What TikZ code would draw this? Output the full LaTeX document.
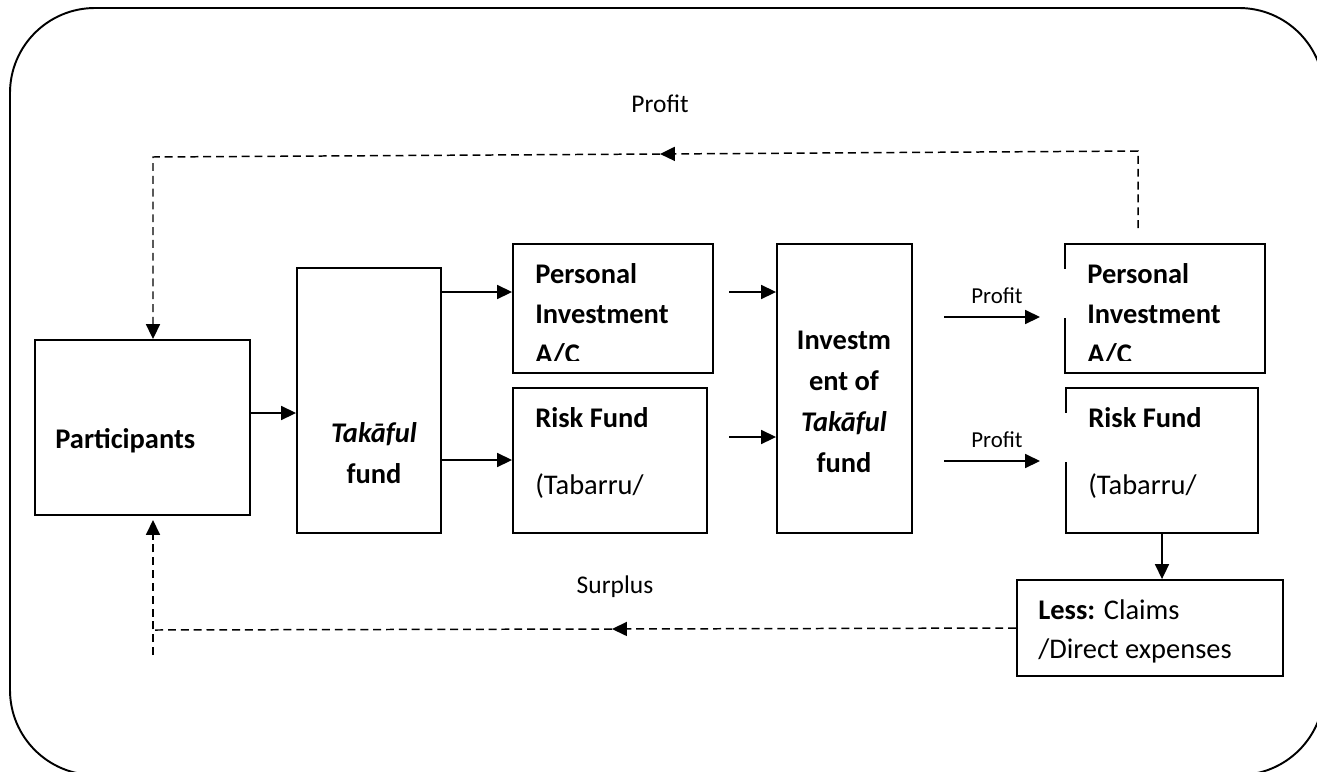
\documentclass[tikz,border=0pt]{standalone}
\usepackage{fontspec}
\setmainfont{Carlito}
\usetikzlibrary{arrows.meta,fit,positioning}
\newcommand{\bigf}{\fontsize{16.2}{22.7}\selectfont}
\newcommand{\smallf}{\fontsize{13}{16}\selectfont}
\newcommand{\midf}{\fontsize{14.5}{18}\selectfont}

\begin{document}
\begin{tikzpicture}[x=0.02cm,y=-0.02cm,
    box/.style={draw, line width=1.1pt, inner sep=0pt},
    txt/.style={inner sep=0pt, font=\bigf, anchor=base west},
    ctxt/.style={inner sep=0pt, font=\bigf, anchor=base},
    plbl/.style={fill=white, inner xsep=0.9cm, inner ysep=0pt, text height=0.68cm, text depth=0.3cm, font=\smallf, anchor=base},
    flow/.style={line width=0.8pt, -{Triangle[length=8.5pt,width=8pt]}},
    back/.style={line width=0.85pt, dash pattern=on 4.5pt off 2.8pt},
    backtip/.style={back, -{Triangle[length=8.5pt,width=8pt]}}]
  \useasboundingbox (0,0) rectangle (1317,771);
  \fill[white] (0,0) rectangle (1317,771);
  \clip (0,0) rectangle (1317,771);
  \draw[line width=1.1pt, rounded corners=1.7cm] (10,8) rectangle (1324,775);

  % boxes
  \node[box, fit={(35,340) (250,515)}] (part) {};
  \node[box, fit={(297,268) (441,533)}] (taka) {};
  \node[box, fit={(513,244) (713,373)}] (pia1) {};
  \node[box, fit={(513,388) (707,533)}] (rf1) {};
  \node[box, fit={(777,244) (912,533)}] (inv) {};
  \node[box, fit={(1065,244) (1265,373)}] (pia2) {};
  \node[box, fit={(1066,388) (1258,533)}] (rf2) {};
  \node[box, fit={(1017,580) (1283,676)}] (less) {};

  % texts
  \node[txt] (partT) at (55,448) {\textbf{Participants}};
  \node[ctxt] (takaT1) at (374,442) {\textbf{\textit{Takāful}}};
  \node[ctxt] (takaT2) at (374,483) {\textbf{fund}};
  \node[txt] (pia1T1) at (535,283) {\textbf{Personal}};
  \node[txt] (pia1T2) at (535,323) {\textbf{Investment}};
  \begin{scope}
    \clip (513,244) rectangle (713,360);
    \node[txt] (pia1T3) at (535,363) {\textbf{A/C}};
  \end{scope}
  \node[txt] (rf1T1) at (535,427) {\textbf{Risk Fund}};
  \node[txt] (rf1T2) at (535,494) {(Tabarru/};
  \node[ctxt] (invT1) at (844,349) {\textbf{Investm}};
  \node[ctxt] (invT2) at (844,390) {\textbf{ent of}};
  \node[ctxt] (invT3) at (844,431) {\textbf{\textit{Takāful}}};
  \node[ctxt] (invT4) at (844,472) {\textbf{fund}};
  \node[txt] (pia2T1) at (1087,283) {\textbf{Personal}};
  \node[txt] (pia2T2) at (1087,323) {\textbf{Investment}};
  \begin{scope}
    \clip (1065,244) rectangle (1265,360);
    \node[txt] (pia2T3) at (1087,363) {\textbf{A/C}};
  \end{scope}
  \node[txt] (rf2T1) at (1088,427) {\textbf{Risk Fund}};
  \node[txt] (rf2T2) at (1088,494) {(Tabarru/};
  \node[txt] (lessT1) at (1038,619) {\textbf{Less:} Claims};
  \node[txt] (lessT2) at (1038,658) {/Direct expenses};

  % labels
  \node[plbl] (prof1) at (997,303) {Profit};
  \node[plbl] (prof2) at (997,447) {Profit};
  \node[inner sep=0pt, font=\midf, anchor=base] (profTop) at (660,112) {Profit};
  \node[inner sep=0pt, font=\midf, anchor=base] (surp) at (615,593) {Surplus};

  % solid arrows
  \draw[flow] (part.east |- 0,413) -- (taka.west |- 0,413);
  \draw[flow] (taka.east |- 0,292) -- (pia1.west |- 0,292);
  \draw[flow] (taka.east |- 0,460) -- (rf1.west |- 0,460);
  \draw[flow] (729,292) -- (inv.west |- 0,292);
  \draw[flow] (729,437) -- (inv.west |- 0,437);
  \draw[flow] (944,317) -- (1040,317);
  \draw[flow] (944,461) -- (1040,461);
  \draw[flow] (rf2.south -| 1162,0) -- (less.north -| 1162,0);

  % dashed return paths
  \coordinate (topR) at (1138,228);
  \coordinate (topRc) at (1138,151);
  \coordinate (topMid) at (660,154);
  \coordinate (topLc) at (153,157);
  \draw[backtip] (topR) -- (topRc) -- (topMid);
  \draw[backtip] (topMid) -- (topLc) -- (topLc |- part.north);
  \coordinate (botMid) at (612,629);
  \coordinate (botLc) at (153,630);
  \coordinate (botEnd) at (153,655);
  \draw[backtip] (less.west) -- (botMid);
  \draw[back] (botMid) -- (botLc);
  \draw[backtip] (botEnd) -- (153,520);
\end{tikzpicture}
\end{document}
